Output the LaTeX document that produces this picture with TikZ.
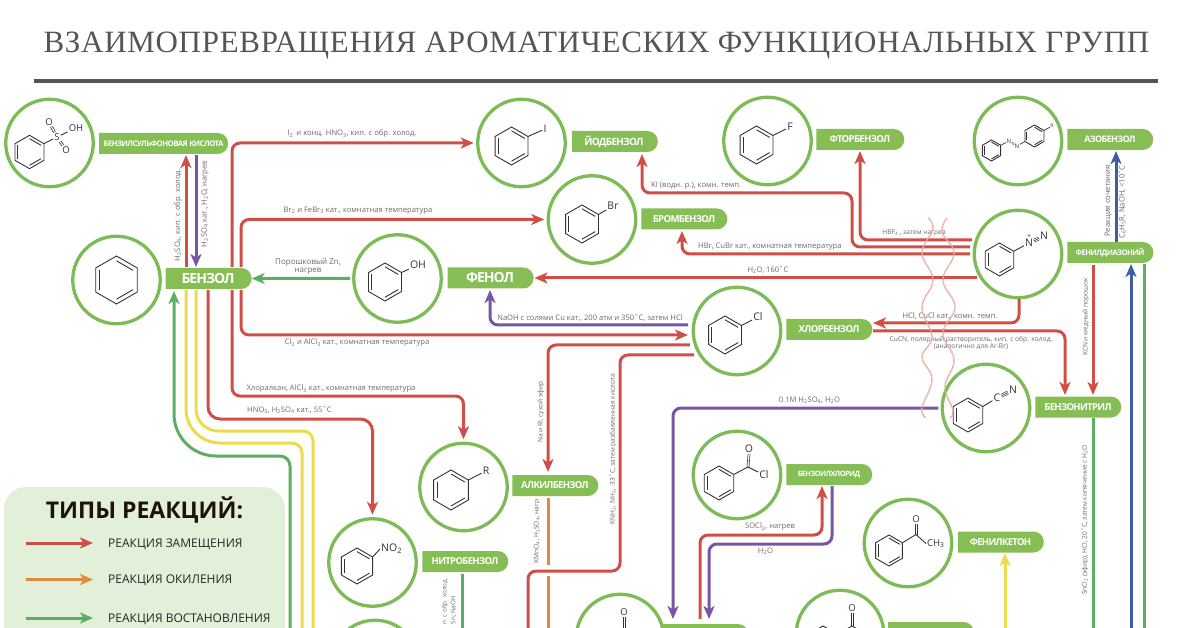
\documentclass[tikz,border=0pt]{standalone}
\usepackage{fontspec}
\usepackage{xcolor}
\setmainfont{Open Sans}
\newfontfamily\titlefont[LetterSpace=2.3]{Liberation Serif}
\newfontfamily\pillfont[LetterSpace=-7]{Open Sans}
\usetikzlibrary{arrows.meta,shapes.misc}
\definecolor{molgreen}{HTML}{7DBB57}
\definecolor{pillgreen}{HTML}{86BD55}
\definecolor{legbg}{HTML}{E2EFD9}
\definecolor{rxred}{HTML}{D14E47}
\definecolor{rxyellow}{HTML}{EEDB4D}
\definecolor{rxgreen}{HTML}{5CAE60}
\definecolor{rxpurple}{HTML}{7B55A5}
\definecolor{rxblue}{HTML}{3F5CA6}
\definecolor{rxorange}{HTML}{E08A3C}
\definecolor{labgray}{HTML}{6A6A6A}
\definecolor{titlegray}{HTML}{555555}
\definecolor{bondgray}{HTML}{333333}
\definecolor{wavepink}{HTML}{E8A9A2}
\newcommand{\fsz}[1]{\fontsize{#1}{#1}\selectfont}
\newcommand{\ix}[1]{\textsubscript{#1}}
\tikzset{
    mol/.style={circle, draw=molgreen, line width=3.3pt, minimum size=87.5pt, inner sep=0pt, outer sep=4pt},
    pill/.style={rounded rectangle, rounded rectangle left arc=none, fill=pillgreen, text=white,
        minimum width=86pt, minimum height=21pt, inner sep=0pt, outer sep=0pt, font=\pillfont\bfseries\fsz{#1}},
    pill/.default=9.6,
    lab/.style={text=labgray, font=\fsz{7.6}, inner sep=0pt, align=center},
    smalllab/.style={lab, font=\fsz{6.6}},
    atom/.style={text=bondgray, font=\fsz{10.5}, inner sep=1pt},
    bond/.style={draw=bondgray, line width=.9pt},
    thinbond/.style={draw=bondgray, line width=.6pt},
    dbond/.style={draw=bondgray, line width=.8pt, double, double distance=1.2pt},
    rx/.style={line width=3pt, rounded corners=8pt, -{Stealth[length=13pt,width=11pt,inset=3.5pt]}},
    rxplain/.style={line width=3pt, rounded corners=8pt},
    wave/.style={draw=wavepink, line width=1.5pt, dash pattern=on 1.6pt off .6pt},
    ring/.pic={
        \draw[bond] (30:1) -- (90:1) -- (150:1) -- (210:1) -- (270:1) -- (330:1) -- cycle;
        \draw[bond] (150:.8) -- (210:.8);
        \draw[bond] (90:.8) -- (30:.8);
        \draw[bond] (270:.8) -- (330:.8);
        \coordinate (-v) at (-30:1);
        \coordinate (-w) at (150:1);
    }
}

\begin{document}
\begin{tikzpicture}[x=1pt, y=-1pt]
    \path[use as bounding box, clip] (0,0) rectangle (1200,628);

    % title
    \node[text=titlegray, font=\titlefont\fsz{31}, inner sep=0pt] (title) at (596.5,46) {ВЗАИМОПРЕВРАЩЕНИЯ АРОМАТИЧЕСКИХ ФУНКЦИОНАЛЬНЫХ ГРУПП};
    \coordinate (ruleL) at (34,80.7);
    \coordinate (ruleR) at (1158,80.7);
    \draw[draw=titlegray, line width=4pt] (ruleL) -- (ruleR);

    % legend
    \fill[legbg, rounded corners=22pt] (4,487) rectangle (285,680);
    \node[text=black!85!brown, font=\bfseries\fsz{23}, inner sep=0pt] (legT) at (144.5,510) {ТИПЫ РЕАКЦИЙ:};
    \node[anchor=west, font=\fsz{12}, text=black!85, inner sep=0pt] (legA) at (108,544) {РЕАКЦИЯ ЗАМЕЩЕНИЯ};
    \node[anchor=west, font=\fsz{12}, text=black!85, inner sep=0pt] (legB) at (108,580.5) {РЕАКЦИЯ ОКИЛЕНИЯ};
    \node[anchor=west, font=\fsz{12}, text=black!85, inner sep=0pt] (legC) at (108,619) {РЕАКЦИЯ ВОСТАНОВЛЕНИЯ};
    \coordinate (legAs) at (26,543);
    \coordinate (legBs) at (26,579.5);
    \coordinate (legCs) at (26,618);
    \coordinate (legAe) at (93,543);
    \coordinate (legBe) at (93,579.5);
    \coordinate (legCe) at (93,618);

    % circles
    \node[mol] (sulfoC) at (49.5,143) {};
    \node[mol] (benzolC) at (116.5,280) {};
    \node[mol] (iodoC) at (521.5,143) {};
    \node[mol] (bromoC) at (592,219.5) {};
    \node[mol] (phenolC) at (397.5,278.5) {};
    \node[mol] (fluoroC) at (767.5,141) {};
    \node[mol] (azoC) at (1018,141) {};
    \node[mol] (diazoC) at (1018,254) {};
    \node[mol] (chloroC) at (737,331) {};
    \node[mol] (nitrileC) at (986,408) {};
    \node[mol] (alkylC) at (463.5,487) {};
    \node[mol] (nitroC) at (372.5,562.5) {};
    \node[mol] (lowerC) at (375,664) {};
    \node[mol] (benzoylC) at (737,475) {};
    \node[mol] (ketoneC) at (908,543) {};
    \node[mol] (acidC) at (620,638) {};
    \node[mol] (esterC) at (840,634) {};

    % name plates
    \node[pill=7.7, minimum width=129pt] (sulfo) at (163.5,143.5) {БЕНЗИЛСУЛЬФОНОВАЯ КИСЛОТА};
    \node[pill=14] (benzol) at (208,278.5) {БЕНЗОЛ};
    \node[pill=10] (iodo) at (614,141.5) {ЙОДБЕНЗОЛ};
    \node[pill] (bromo) at (684,219) {БРОМБЕНЗОЛ};
    \node[pill=14] (phenol) at (490,278) {ФЕНОЛ};
    \node[pill] (chloro) at (829,329.5) {ХЛОРБЕНЗОЛ};
    \node[pill, minimum width=88pt] (fluoro) at (860,139.5) {ФТОРБЕНЗОЛ};
    \node[pill=9] (azo) at (1110,139.5) {АЗОБЕНЗОЛ};
    \node[pill=7.6] (diazo) at (1110,252.5) {ФЕНИЛДИАЗОНИЙ};
    \node[pill=9.5] (nitrile) at (1078,407) {БЕНЗОНИТРИЛ};
    \node[pill=7.3] (benzoyl) at (829,474.5) {БЕНЗОИЛХЛОРИД};
    \node[pill=9.5] (ketone) at (1000.5,542) {ФЕНИЛКЕТОН};
    \node[pill=9.5] (alkyl) at (555,485.5) {АЛКИЛБЕНЗОЛ};
    \node[pill=9.5] (nitro) at (465,561.5) {НИТРОБЕНЗОЛ};
    \node[pill] (acid) at (705.5,634.5) {};
    \node[pill] (ester) at (931,632.5) {};

    % molecules
    \pic[scale=16.7] (sulfoR) at (29.5,152) {ring};
    \node[atom, font=\fsz{9.5}] (sulfoS) at (57,137) {S};
    \node[atom, font=\fsz{9.5}] (sulfoO) at (49,122) {O};
    \node[atom, font=\fsz{9.5}] (sulfoP) at (66,150) {O};
    \node[atom, font=\fsz{9.5}] (sulfoH) at (76,128) {OH};
    \draw[bond] (sulfoR-v) -- (sulfoS);
    \draw[bond] (sulfoS) -- (sulfoH);
    \draw[dbond] (sulfoS) -- (sulfoO);
    \draw[dbond] (sulfoS) -- (sulfoP);

    \pic[scale=24] at (116.5,280) {ring};

    \pic[scale=19] (phenolR) at (385,282) {ring};
    \node[atom] (phenolH) at (418,265) {OH};
    \draw[bond] (phenolR-v) -- (phenolH);

    \pic[scale=19] (iodoR) at (511.5,146) {ring};
    \node[atom] (iodoI) at (545,129) {I};
    \draw[bond] (iodoR-v) -- (iodoI);

    \pic[scale=19] (bromoR) at (582,224) {ring};
    \node[atom] (bromoB) at (613,206) {Br};
    \draw[bond] (bromoR-v) -- (bromoB);

    \pic[scale=19] (fluoroR) at (756.5,145) {ring};
    \node[atom] (fluoroF) at (790,127) {F};
    \draw[bond] (fluoroR-v) -- (fluoroF);

    \pic[scale=19] (chloroR) at (725,335) {ring};
    \node[atom] (chloroL) at (758,317) {Cl};
    \draw[bond] (chloroR-v) -- (chloroL);

    \pic[scale=10.5] (azoR) at (991.5,150.5) {ring};
    \pic[scale=11] (azoQ) at (1034.5,136) {ring};
    \node[atom, font=\fsz{6}, inner sep=.5pt] (azoN) at (1009,141) {N};
    \node[atom, font=\fsz{6}, inner sep=.5pt] (azoM) at (1017,146) {N};
    \node[atom, font=\fsz{5}, inner sep=.5pt] (azoT) at (1052,126) {R};
    \draw[bond, line width=.7pt] (azoR-v) -- (azoN);
    \draw[dbond, line width=.5pt, double distance=.7pt] (azoN) -- (azoM);
    \draw[bond, line width=.7pt] (azoM) -- (azoQ-w);
    \draw[bond, line width=.7pt] (azoQ-v) -- (azoT);

    \pic[scale=16.5] (diazoR) at (999.5,259.5) {ring};
    \node[atom] (diazoN) at (1029,243) {N};
    \node[atom] (diazoM) at (1044,236) {N};
    \node[atom, font=\fsz{7}, inner sep=0pt] (diazoP) at (1029,236) {+};
    \draw[bond] (diazoR-v) -- (diazoN);
    \draw[dbond, line width=.6pt, double distance=2.4pt] (diazoN) -- (diazoM);
    \draw[thinbond] (diazoN) -- (diazoM);

    \pic[scale=17] (nitrileR) at (968,415) {ring};
    \node[atom] (nitrileK) at (997,398) {C};
    \node[atom] (nitrileN) at (1013,390) {N};
    \draw[bond] (nitrileR-v) -- (nitrileK);
    \draw[dbond, line width=.6pt, double distance=2.4pt] (nitrileK) -- (nitrileN);
    \draw[thinbond] (nitrileK) -- (nitrileN);

    \pic[scale=20] (alkylR) at (451,490) {ring};
    \node[atom] (alkylG) at (486,471) {R};
    \draw[bond] (alkylR-v) -- (alkylG);

    \pic[scale=18] (nitroR) at (357,566) {ring};
    \node[atom, anchor=west] (nitroG) at (380,549) {NO\ix{2}};
    \draw[bond] (nitroR-v) -- (nitroG.west);

    \pic[scale=17] (benzoylR) at (719,483) {ring};
    \coordinate (benzoylK) at (748,467);
    \node[atom] (benzoylO) at (749,449) {O};
    \node[atom] (benzoylL) at (764,475) {Cl};
    \draw[bond] (benzoylR-v) -- (benzoylK) -- (benzoylL);
    \draw[thinbond] ([xshift=-1pt]benzoylK) -- ([xshift=-1pt]benzoylO.south);
    \draw[thinbond] ([xshift=1pt]benzoylK) -- ([xshift=1pt]benzoylO.south);

    \pic[scale=15.5] (ketoneR) at (889,550.5) {ring};
    \coordinate (ketoneK) at (916,534.5);
    \node[atom, font=\fsz{9.5}] (ketoneO) at (916,519) {O};
    \node[atom, font=\fsz{9.5}, anchor=west] (ketoneM) at (926,543.5) {CH\ix{3}};
    \draw[bond] (ketoneR-v) -- (ketoneK) -- (ketoneM.west);
    \draw[thinbond] ([xshift=-1pt]ketoneK) -- ([xshift=-1pt]ketoneO.south);
    \draw[thinbond] ([xshift=1pt]ketoneK) -- ([xshift=1pt]ketoneO.south);

    \coordinate (acidK) at (624,628);
    \node[atom, font=\fsz{9.5}] (acidO) at (624,612) {O};
    \draw[thinbond] ([xshift=-1pt]acidK) -- ([xshift=-1pt]acidO.south);
    \draw[thinbond] ([xshift=1pt]acidK) -- ([xshift=1pt]acidO.south);

    \pic[scale=17] (esterR) at (823,643) {ring};
    \coordinate (esterK) at (852,626);
    \node[atom, font=\fsz{9.5}] (esterO) at (852,608) {O};
    \draw[thinbond] ([xshift=-1pt]esterK) -- ([xshift=-1pt]esterO.south);
    \draw[thinbond] ([xshift=1pt]esterK) -- ([xshift=1pt]esterO.south);
    \draw[bond] (esterK) -- ++(-14,8);
    \draw[bond] (esterK) -- ++(14,8);

    % end points at the plates
    \coordinate (sulfoA) at (186,155);
    \coordinate (sulfoB) at (196,155);
    \coordinate (benzolA) at (186,267);
    \coordinate (benzolB) at (196,267);
    \coordinate (benzolC1) at (232,267);
    \coordinate (benzolC2) at (241,267);
    \coordinate (benzolD1) at (232,290);
    \coordinate (benzolD2) at (241,290);
    \coordinate (benzolE) at (208,290);
    \coordinate (benzolF) at (196,290);
    \coordinate (benzolG) at (186,290);
    \coordinate (benzolH) at (174,291);
    \coordinate (iodoIn) at (642,154);
    \coordinate (bromoIn) at (682,231);
    \coordinate (fluoroIn) at (860,151);
    \coordinate (phenolIn) at (534.5,278);
    \coordinate (phenolUp) at (490,290);
    \coordinate (chloroIn) at (688,335);
    \coordinate (chloroA) at (688,325);
    \coordinate (chloroB) at (690,345);
    \coordinate (chloroD) at (694,355);
    \coordinate (chloroE) at (873,323);
    \coordinate (chloroF) at (873,331);
    \coordinate (diazoA) at (972,240);
    \coordinate (diazoB) at (970,247);
    \coordinate (diazoE) at (970,254);
    \coordinate (diazoF) at (977,278);
    \coordinate (diazoG) at (1019,299);
    \coordinate (diazoH) at (1116,242);
    \coordinate (azoIn) at (1116,151);
    \coordinate (diazoI) at (1093,265);
    \coordinate (diazoJ) at (1131,264);
    \coordinate (diazoK) at (1144,264);
    \coordinate (nitrileA) at (1065,395);
    \coordinate (nitrileD) at (1093,395);
    \coordinate (nitrileE) at (1093,418);
    \coordinate (alkylIn) at (548,472);
    \coordinate (alkylOut) at (548,498);
    \coordinate (oxMid) at (548,565);
    \coordinate (oxRest) at (548,576);
    \coordinate (nitroOut) at (462,574);
    \coordinate (acidA) at (673,619);
    \coordinate (acidB) at (700,619);
    \coordinate (acidD) at (709,619);
    \coordinate (benzoylA) at (822,486);
    \coordinate (benzoylB) at (832,486);
    \coordinate (ketoneIn) at (1005,553);
    % lines running off the bottom edge
    \coordinate (botA) at (290,628);
    \coordinate (botB) at (302,628);
    \coordinate (botD) at (313,628);
    \coordinate (botE) at (462,628);
    \coordinate (botF) at (528,628);
    \coordinate (botG) at (548,628);
    \coordinate (botH) at (1005,628);
    \coordinate (botI) at (1093,628);
    \coordinate (botJ) at (1131,628);
    \coordinate (botK) at (1144,628);

    % top left reactions
    \draw[rx, rxred] (benzolA) -- (sulfoA);
    \draw[rx, rxpurple] (sulfoB) -- (benzolB);
    \draw[rx, rxred] (benzolC1) |- (iodoC);
    \draw[rx, rxred] (benzolC2) |- (bromoC);
    \draw[rx, rxred] (benzolD1) -- (232,396) -- (463.5,396) -- (alkylC);
    \draw[rx, rxred] (benzolD2) |- (chloroIn);
    \draw[rx, rxred, rounded corners=12pt] (benzolE) -- (208,419) -- (372.5,419) -- (nitroC);
    \draw[rx, rxgreen] (phenolC) -- (benzol);

    % reactions to and from benzene that go down the page
    \draw[rxplain, rxyellow] (benzolF) [rounded corners=22pt] -- (196,431) [rounded corners=10pt] -- (313,431) -- (botD);
    \draw[rxplain, rxyellow] (benzolG) [rounded corners=34pt] -- (186,443) [rounded corners=10pt] -- (302,443) -- (botB);
    \draw[rx, rxgreen] (botA) [rounded corners=10pt] -- (290,456) [rounded corners=42pt] -- (174,456) [rounded corners=8pt] -- (benzolH);

    % diazonium
    \draw[rx, rxred] (diazoA) -| (fluoroIn);
    \draw[rx, rxred] (diazoB) -| (852,193) -| (iodoIn);
    \draw[rx, rxred] (diazoE) -| (bromoIn);
    \draw[rx, rxred] (diazoF) -- (phenolIn);
    \draw[rx, rxred] (diazoG) |- (chloroE);
    \draw[rx, rxred] (diazoI) -- (nitrileD);
    \draw[rx, rxblue] (diazoH) -- (azoIn);
    \draw[rx, rxblue] (botJ) -- (diazoJ);
    \draw[rxplain, rxgreen] (diazoK) -- (botK);

    % chlorobenzene
    \draw[rx, rxpurple] (chloroA) -| (phenolUp);
    \draw[rx, rxred] (chloroB) -| (alkylIn);
    \draw[rxplain, rxred] (chloroD) -| (620,571) -| (botF);
    \draw[rx, rxred] (chloroF) -| (nitrileA);

    % lower part
    \draw[rxplain, rxorange] (alkylOut) -- (oxMid);
    \draw[rxplain, rxorange] (oxRest) -- (botG);
    \draw[rxplain, rxgreen] (nitroOut) -- (botE);
    \draw[rx, rxpurple] (nitrileC) -| (acidA);
    \draw[rx, rxred] (acidB) |- (822,535) -- (benzoylA);
    \draw[rx, rxpurple] (benzoylB) |- (709,544) -- (acidD);
    \draw[rx, rxyellow] (botH) -- (ketoneIn);
    \draw[rxplain, rxgreen] (nitrileE) -- (botI);

    % legend arrows
    \draw[rx, rxred] (legAs) -- (legAe);
    \draw[rx, rxorange] (legBs) -- (legBe);
    \draw[rx, rxgreen] (legCs) -- (legCe);

    % labels
    \node[lab] (t1) at (352,134) {I\ix{2}\, и конц. HNO\ix{3}, кип. с обр. холод.};
    \node[lab] (t2) at (358,211) {Br\ix{2} и FeBr\ix{3} кат., комнатная температура};
    \node[lab] (t3) at (357,343) {Cl\ix{2} и AlCl\ix{3} кат., комнатная температура};
    \node[lab] (t4) at (331,389) {Хлоралкан, AlCl\ix{3} кат., комнатная температура};
    \node[lab, anchor=west] (t5) at (247,410) {HNO\ix{3}, H\ix{2}SO\ix{4} кат., 55˚C};
    \node[lab, font=\fsz{8}] (t6) at (308,266) {Порошковый Zn,\\нагрев};
    \node[lab, rotate=90] (t7) at (178,215) {H\ix{2}SO\ix{4}, кип. с обр. холод.};
    \node[lab, rotate=90] (t8) at (205,204) {H\ix{2}SO\ix{4} кат., H\ix{2}O, нагрев};
    \node[lab, anchor=west] (t9) at (651,186) {KI (водн. р.), комн. темп.};
    \node[lab, anchor=west] (t10) at (698,247) {HBr, CuBr кат., комнатная температура};
    \node[lab] (t11) at (768,270) {H\ix{2}O, 160˚C};
    \node[lab, anchor=east] (t12) at (683,318) {NaOH с солями Cu кат., 200 атм и 350˚C, затем HCl};
    \node[smalllab] (t13) at (914,233) {HBF\ix{4} , затем нагрев};
    \node[lab] (t14) at (950,316) {HCl, CuCl кат., комн. темп.};
    \node[smalllab, font=\fsz{6.7}] (t15) at (971,343) {CuCN, полярный растворитель, кип. с обр. холод.\\(аналогично для Ar-Br)};
    \node[lab, rotate=90] (t16) at (1108,201) {Реакция сочетания};
    \node[lab, rotate=90] (t17) at (1122,202) {C\ix{6}H\ix{5}R, NaOH, <10˚C};
    \node[smalllab, rotate=90] (t18) at (1086,317) {KCN и медный порошок};
    \node[lab] (t19) at (809.5,400) {0.1M H\ix{2}SO\ix{4}, H\ix{2}O};
    \node[smalllab, rotate=90] (t20) at (541,412) {Na и RI, сухой эфир};
    \node[smalllab, rotate=90] (t21) at (613,449) {KNH\ix{2}, NH\ix{3}, -33˚C, затем разбавленная кислота};
    \node[smalllab, rotate=90] (t22) at (537,531.5) {KMnO\ix{4}, H\ix{2}SO\ix{4}, нагр};
    \node[lab] (t23) at (770,527) {SOCl\ix{2}, нагрев};
    \node[lab] (t24) at (765.5,551) {H\ix{2}O};
    \node[smalllab, rotate=90] (t25) at (1085,520) {SnCl\ix{2} (эфир), HCl, 20˚C, затем кипячение с H\ix{2}O};
    \node[smalllab, rotate=90, anchor=east, font=\fsz{6.2}] (t26) at (445,578) {п. с обр. холод.};
    \node[smalllab, rotate=90, anchor=east, font=\fsz{6.2}] (t27) at (453.5,596) {Sn; NaOH};

    % wavy ribbons
    \draw[wave] plot[smooth, tension=.7] coordinates {(928,218) (933,229) (922,253) (933,280) (922,307) (932,337) (922,357) (932,379) (922,408) (926,418)};
    \draw[wave] plot[smooth, tension=.7] coordinates {(947,218) (942,232) (954,253) (943,280) (955,307) (943,333) (954,360) (945,387) (953,410) (950,418)};
\end{tikzpicture}
\end{document}
